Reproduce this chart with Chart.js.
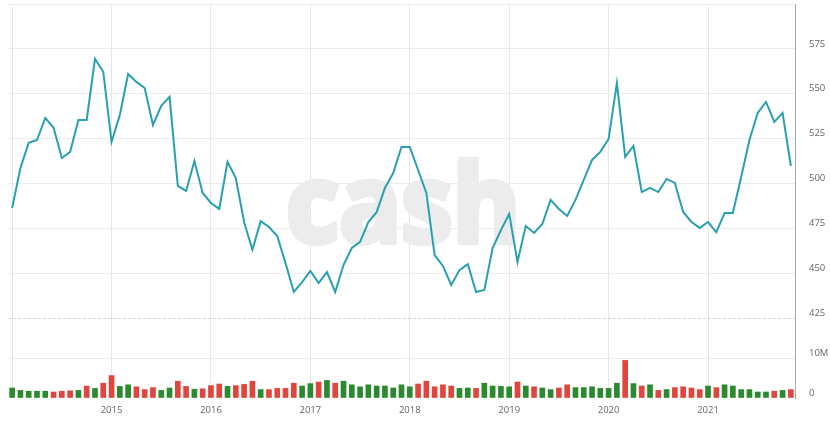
<!DOCTYPE html>
<html>
<head>
<meta charset="utf-8">
<script src="https://cdn.jsdelivr.net/npm/chart.js@4.4.1/dist/chart.umd.min.js"></script>
<style>
  body { margin: 0; background: #fff; }
  #wrap { width: 830px; height: 421px; position: relative; }
</style>
</head>
<body>
<div id="wrap"><canvas id="myChart"></canvas></div>
<script>
// monthly, Jan 2014 .. Nov 2021
const startYear = 2014;
const monthCount = 95;

const closePrices = [
    486.3, 508.6, 522.6, 524.2, 536.5, 531.0, 514.2, 517.6, 535.4, 535.4, 569.4, 562.2,
    523.1, 538.2, 561.0, 556.6, 553.2, 532.6, 543.2, 548.2, 498.6, 495.8, 512.5, 494.7,
    489.1, 485.8, 512.0, 503.0, 478.5, 463.0, 479.0, 475.7, 470.7, 455.6, 439.5, 445.0,
    451.2, 444.5, 450.6, 439.5, 454.5, 464.0, 467.4, 478.5, 484.0, 497.5, 505.8, 520.3,
    520.3, 507.5, 494.7, 460.1, 454.0, 443.4, 451.7, 455.0, 439.5, 440.6, 464.0, 474.0,
    483.0, 456.2, 476.3, 472.4, 477.4, 490.8, 485.8, 481.9, 490.8, 502.0, 513.1, 517.6,
    524.8, 556.0, 514.8, 520.9, 495.2, 497.5, 495.2, 502.5, 500.3, 484.1, 478.5, 475.2,
    478.5, 472.9, 483.5, 483.5, 503.6, 524.2, 539.3, 545.4, 534.3, 539.3, 509.7
];

// volume in millions
const volumes = [
    2.5, 1.9, 1.7, 1.7, 1.7, 1.5, 1.7, 1.8, 1.9, 3.0, 2.4, 3.7,
    5.6, 2.9, 3.3, 2.8, 2.1, 2.6, 1.9, 2.5, 4.2, 2.9, 2.2, 2.3,
    3.1, 3.5, 2.9, 3.1, 3.4, 4.2, 2.1, 2.1, 2.4, 2.4, 3.7, 3.0,
    3.6, 4.0, 4.4, 3.7, 4.2, 3.3, 2.8, 3.3, 3.0, 3.0, 2.5, 3.3,
    2.8, 3.5, 4.2, 2.8, 3.3, 3.0, 2.4, 2.5, 2.4, 3.7, 3.0, 2.9,
    2.8, 4.0, 3.0, 2.8, 2.5, 2.1, 2.5, 3.3, 2.6, 2.6, 2.8, 2.4,
    2.4, 3.7, 9.4, 3.6, 3.0, 3.3, 1.9, 2.1, 2.6, 2.8, 2.5, 2.1,
    3.0, 2.6, 3.3, 3.0, 2.1, 2.1, 1.5, 1.5, 1.7, 1.9, 2.1
];

// 1 = green bar, 0 = red bar
const volumeUp = [
    1, 1, 1, 1, 1, 0, 0, 0, 1, 0, 1, 0,
    0, 1, 1, 0, 0, 0, 1, 1, 0, 0, 1, 0,
    0, 0, 1, 0, 0, 0, 1, 0, 0, 0, 0, 1,
    1, 0, 1, 0, 1, 1, 1, 1, 1, 1, 1, 1,
    1, 0, 0, 0, 0, 0, 1, 1, 0, 1, 1, 1,
    1, 0, 1, 0, 1, 1, 0, 0, 1, 1, 1, 1,
    1, 1, 0, 1, 0, 1, 0, 1, 0, 0, 0, 0,
    1, 0, 1, 1, 1, 1, 1, 1, 0, 1, 0
];

const priceTicks = [425, 450, 475, 500, 525, 550, 575];
const volumeTicks = [0, 10];

const months = [];
for (let i = 0; i < monthCount; i++) {
    const y = startYear + Math.floor(i / 12);
    const m = (i % 12) + 1;
    months.push(y + '-' + (m < 10 ? '0' + m : m));
}

const lineColor = '#2aa0ae';
const greenBar = '#2b8a2e';
const redBar = '#e0463d';
const tickFont = { family: '"Open Sans"', size: 9.5 };
const tickColor = '#666';

const watermark = {
    id: 'watermark',
    beforeDatasetsDraw(chart) {
        const ctx = chart.ctx;
        const area = chart.chartArea;
        ctx.save();
        ctx.font = 'bold 120px "Open Sans"';
        const m = ctx.measureText('cash');
        const w = m.actualBoundingBoxLeft + m.actualBoundingBoxRight;
        const h = m.actualBoundingBoxAscent + m.actualBoundingBoxDescent;
        const cx = (area.left + area.right) / 2;
        const cy = (area.top + area.bottom) / 2;
        ctx.translate(cx, cy);
        ctx.scale(222 / w, 84 / h);
        ctx.fillStyle = '#ececec';
        ctx.strokeStyle = '#ececec';
        ctx.lineWidth = 7;
        ctx.lineJoin = 'round';
        ctx.textBaseline = 'alphabetic';
        const tx = -w / 2 + m.actualBoundingBoxLeft;
        const ty = -h / 2 + m.actualBoundingBoxAscent;
        ctx.strokeText('cash', tx, ty);
        ctx.fillText('cash', tx, ty);
        ctx.restore();

        // panel separator
        const yb = chart.scales.price.bottom;
        ctx.save();
        ctx.strokeStyle = '#d4d4d4';
        ctx.lineWidth = 1;
        ctx.setLineDash([3, 2]);
        ctx.beginPath();
        ctx.moveTo(area.left, Math.round(yb) + 0.5);
        ctx.lineTo(area.right, Math.round(yb) + 0.5);
        ctx.stroke();
        ctx.restore();
    }
};

function noPad(s) {
    s.paddingTop = 0;
    s.paddingBottom = 0;
    s.paddingLeft = 0;
    s.paddingRight = 0;
}

function createChart() {
    const data = {
        labels: months,
        datasets: [
            {
                type: 'line',
                label: 'Kurs',
                data: closePrices,
                yAxisID: 'price',
                borderColor: lineColor,
                borderWidth: 2,
                pointRadius: 0,
                tension: 0,
                order: 0
            },
            {
                type: 'bar',
                label: 'Volumen',
                data: volumes,
                yAxisID: 'volume',
                backgroundColor: volumeUp.map(u => u ? greenBar : redBar),
                barThickness: 5,
                order: 1
            }
        ]
    };
    const config = {
        type: 'bar',
        data: data,
        plugins: [watermark],
        options: {
            responsive: true,
            maintainAspectRatio: false,
            animation: false,
            layout: { padding: { left: 8, top: 4, right: 0, bottom: 0 } },
            plugins: {
                legend: { display: false },
                tooltip: { enabled: false }
            },
            scales: {
                x: {
                    offset: true,
                    grid: {
                        offset: false,
                        drawTicks: false,
                        color: c => (c.index % 12 === 0 ? '#e6e6e6' : 'rgba(0,0,0,0)')
                    },
                    border: { display: false },
                    ticks: {
                        autoSkip: false,
                        maxRotation: 0,
                        padding: 7,
                        color: tickColor,
                        font: tickFont,
                        callback: function (v, i) {
                            return (i > 0 && i % 12 === 0) ? months[i].slice(0, 4) : '';
                        }
                    },
                    afterFit: s => { s.height = 23; noPad(s); }
                },
                price: {
                    position: 'right',
                    stack: 'panels',
                    stackWeight: 314,
                    weight: 0,
                    min: 425,
                    max: 600,
                    afterBuildTicks: s => {
                        s.ticks = priceTicks.concat([600]).map(v => ({ value: v }));
                    },
                    grid: {
                        drawTicks: false,
                        color: c => (c.tick && c.tick.value === 425 ? 'rgba(0,0,0,0)' : '#ececec')
                    },
                    border: { display: true, color: '#a8a8a8' },
                    ticks: {
                        padding: 14,
                        labelOffset: -5,
                        color: tickColor,
                        font: tickFont,
                        callback: v => (v === 600 ? '' : String(v))
                    },
                    afterFit: s => { s.width = 35; noPad(s); }
                },
                volume: {
                    position: 'right',
                    stack: 'panels',
                    stackWeight: 80,
                    weight: 1,
                    min: 0,
                    max: 20,
                    afterBuildTicks: s => {
                        s.ticks = volumeTicks.concat([20]).map(v => ({ value: v }));
                    },
                    grid: {
                        drawTicks: false,
                        color: c => (c.tick && c.tick.value === 10 ? '#ececec' : 'rgba(0,0,0,0)')
                    },
                    border: { display: true, color: '#a8a8a8' },
                    ticks: {
                        padding: 14,
                        labelOffset: -5,
                        color: tickColor,
                        font: tickFont,
                        callback: v => (v === 0 ? '0' : v === 10 ? '10M' : '')
                    },
                    afterFit: s => { s.width = 35; noPad(s); }
                }
            }
        }
    };
    var myChart = new Chart(document.getElementById('myChart'), config);
    return myChart;
}

createChart();
</script>
</body>
</html>
